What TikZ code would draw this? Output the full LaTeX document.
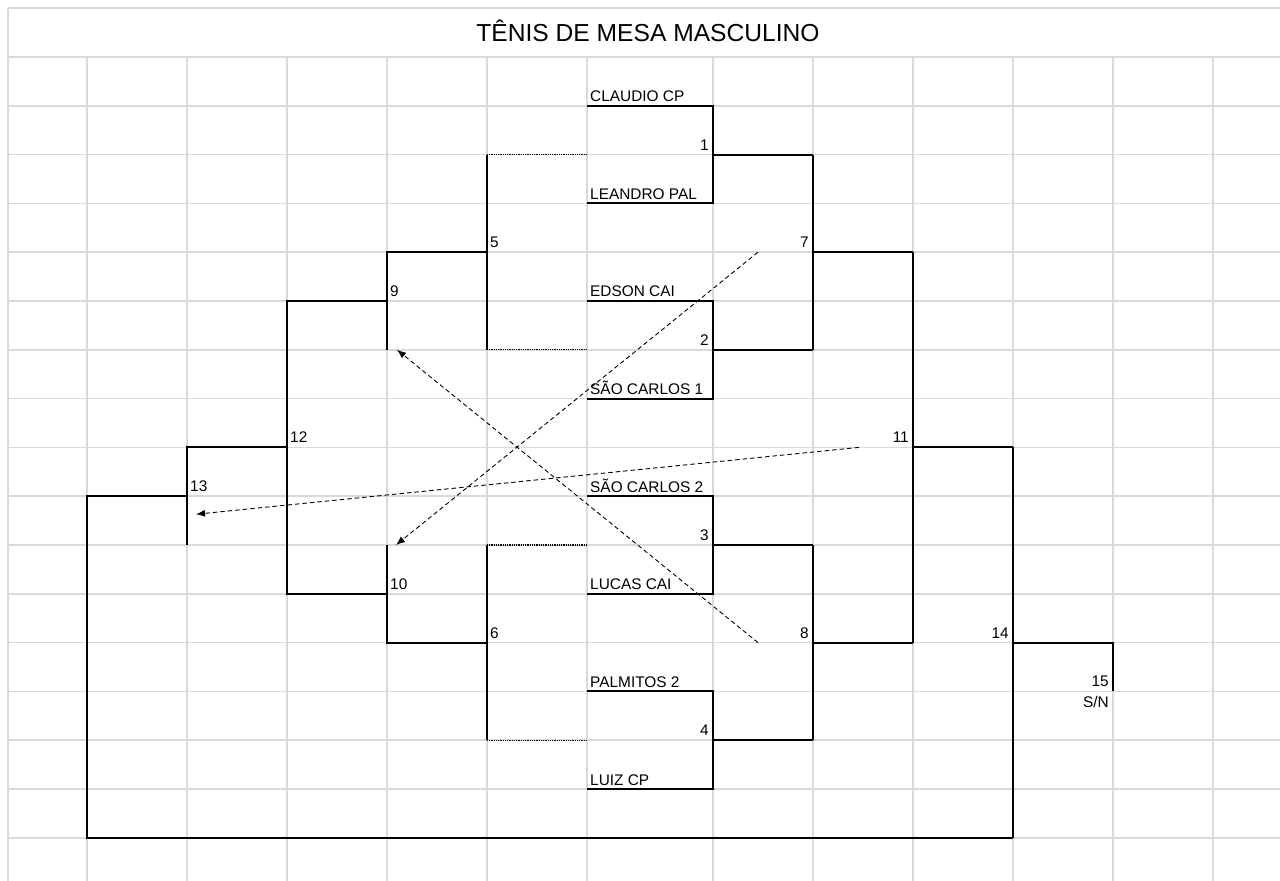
\documentclass[tikz,border=0pt]{standalone}
\usepackage{fontspec}
\setmainfont{Liberation Sans}
\usetikzlibrary{arrows.meta}

\begin{document}
\begin{tikzpicture}[x=1pt, y=-48.8pt,
    grid/.style={draw=black!15, line width=1.6pt},
    bracket/.style={line width=2pt, line join=miter},
    seed/.style={line width=1.4pt, dash pattern=on 1pt off 0.8pt},
    loser/.style={line width=0.9pt, dash pattern=on 4.5pt off 3pt, -{Latex[length=9pt, width=7pt]}},
    txt/.style={inner sep=0pt, font=\fontsize{15.4}{18}\selectfont},
    player/.style={txt, anchor=base west, xshift=3pt, yshift=4pt},
    gameR/.style={txt, anchor=base east, xshift=-4pt, yshift=4.5pt},
    gameL/.style={txt, anchor=base west, xshift=3pt, yshift=4.5pt}]
    \useasboundingbox (0,-1.168) rectangle (1280,16.885);
    \fill[white] (0,-1.168) rectangle (1280,16.885);

    \foreach \r in {-1,0,...,16}
        \draw[grid] (8,\r) -- (1280,\r);
    \draw[grid] (8,-1) -- (8,16.885);
    \foreach \c in {87,187,287,387,487,587,713,813,913,1013,1113,1213}
        \draw[grid] (\c,0) -- (\c,16.885);

    \node[anchor=base, inner sep=0pt, font=\fontsize{24.6}{28}\selectfont] (title) at (648,-0.314) {TÊNIS DE MESA MASCULINO};

    \foreach \n [count=\i] in {CLAUDIO CP, LEANDRO PAL, EDSON CAI, SÃO CARLOS 1, SÃO CARLOS 2, LUCAS CAI, PALMITOS 2, LUIZ CP}
        \node[player] (p\i) at (587,{2*\i-1}) {\n};
    \foreach \a in {1,5,9,13}
        \draw[bracket] (587,\a) -- (713,\a) -- (713,{\a+2}) -- (587,{\a+2}) (713,{\a+1}) -- (813,{\a+1});
    \foreach \g/\r in {1/2,2/6,3/10,4/14}
        \node[gameR] (g\g) at (713,\r) {\g};

    \draw[bracket] (813,2) -- (813,6) (813,4) -- (913,4);
    \draw[bracket] (813,10) -- (813,14) (813,12) -- (913,12);
    \draw[bracket] (913,4) -- (913,12) (913,8) -- (1013,8);
    \draw[bracket] (1013,8) -- (1013,16) (1013,12) -- (1113,12) -- (1113,13);
    \draw[bracket] (1013,16) -- (87,16) -- (87,9) -- (187,9);
    \foreach \g/\c/\r in {7/813/4,8/813/12,11/913/8,14/1013/12,15/1113/13}
        \node[gameR] (g\g) at (\c,\r) {\g};
    \node[txt, anchor=base east, xshift=-4pt, yshift=-16.5pt] (sn) at (1113,13) {S/N};

    \foreach \r in {2,6,10,14}
        \draw[seed] (487,\r) -- (587,\r);
    \draw[bracket] (487,2) -- (487,6) (487,4) -- (387,4) -- (387,6);
    \draw[bracket] (487,10) -- (487,14) (487,12) -- (387,12) -- (387,10);
    \draw[bracket] (387,5) -- (287,5) -- (287,11) -- (387,11);
    \draw[bracket] (287,8) -- (187,8) -- (187,10);
    \foreach \g/\c/\r in {5/487/4,6/487/12,9/387/5,10/387/11,12/287/8,13/187/9}
        \node[gameL] (g\g) at (\c,\r) {\g};

    \coordinate (lose7) at (758,4);
    \coordinate (lose8) at (758,12);
    \coordinate (lose11) at (859,8);
    \coordinate (to10) at (396,10);
    \coordinate (to9) at (397,6);
    \coordinate (to13) at (196,9.37);
    \draw[loser] (lose7) -- (to10);
    \draw[loser] (lose8) -- (to9);
    \draw[loser] (lose11) -- (to13);
\end{tikzpicture}
\end{document}
